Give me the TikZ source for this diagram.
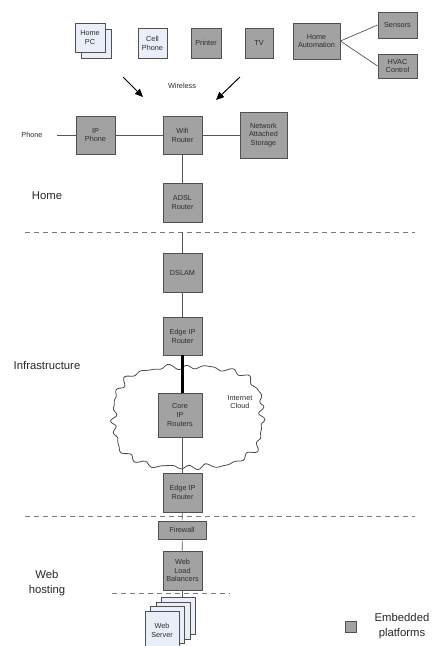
\documentclass[tikz,border=0pt]{standalone}
\usepackage{fontspec}
\setmainfont{Liberation Sans}
\usetikzlibrary{arrows.meta}
\definecolor{boxgray}{RGB}{162,162,162}
\definecolor{boxlight}{RGB}{233,238,249}
\definecolor{boxline}{RGB}{80,80,80}
\definecolor{wire}{RGB}{85,85,85}
\definecolor{txt}{RGB}{45,45,45}
\begin{document}
\begin{tikzpicture}[x=1pt,y=-1pt,
  unit/.style={draw=boxline, line width=0.9pt, inner sep=0pt, align=center,
    text=txt, font=\fontsize{7.3}{8.8}\selectfont},
  emb/.style={unit, fill=boxgray},
  pc/.style={unit, fill=boxlight},
  link/.style={draw=wire, line width=0.7pt},
  zone/.style={draw=wire!80, line width=0.7pt, dash pattern=on 5pt off 4pt},
  area/.style={font=\fontsize{11.3}{14.5}\selectfont, text=black!85, align=center},
  note/.style={font=\fontsize{7.3}{8.8}\selectfont, text=txt, align=center},
  wl/.style={line width=1pt, -{Triangle[length=8pt,width=7pt]}}]
\useasboundingbox (0,0) rectangle (433,646);

% --- home devices ---
\node[pc, minimum width=30pt, minimum height=29pt] (pcback) at (96,43.5) {};
\node[pc, minimum width=30pt, minimum height=29pt] (pc) at (90,37.5) {Home\\PC};
\node[pc, minimum width=29pt, minimum height=30pt] (cell) at (152.5,43) {Cell\\Phone};
\node[emb, minimum width=30pt, minimum height=30pt] (printer) at (206,43) {Printer};
\node[emb, minimum width=28pt, minimum height=30pt] (tv) at (259,43) {TV};
\node[emb, minimum width=47pt, minimum height=36pt] (auto) at (316.5,41) {Home\\Automation};
\node[emb, minimum width=39pt, minimum height=26pt] (sensors) at (397.5,25) {Sensors};
\node[emb, minimum width=39pt, minimum height=24pt] (hvac) at (397.5,66) {HVAC\\Control};
\draw[link] (auto.east) -- (sensors.west);
\draw[link] (auto.east) -- (hvac.west);

\node[note] (wireless) at (182,86) {Wireless};
\coordinate (wa1) at (123,77);
\coordinate (wb1) at (143,97);
\coordinate (wa2) at (240,77);
\coordinate (wb2) at (216,100);
\draw[wl] (wa1) -- (wb1);
\draw[wl] (wa2) -- (wb2);

% --- home network ---
\node[note] (phone) at (32,135) {Phone};
\node[emb, minimum width=39pt, minimum height=38pt] (ipphone) at (95.5,135) {IP\\Phone};
\node[emb, minimum width=39pt, minimum height=38pt] (wifi) at (182.5,135) {Wifi\\Router};
\node[emb, minimum width=47pt, minimum height=46pt] (nas) at (263.5,135) {Network\\Attached\\Storage};
\node[emb, minimum width=39pt, minimum height=39pt] (adsl) at (182.5,202.5) {ADSL\\Router};
\coordinate (phoneend) at (57,135);
\draw[link] (phoneend) -- (ipphone.west);
\draw[link] (ipphone) -- (wifi);
\draw[link] (wifi) -- (nas);
\draw[link] (wifi) -- (adsl);
\node[area] (home) at (47,196) {Home};

% --- zone borders ---
\coordinate (z1a) at (25,232);  \coordinate (z1b) at (415,232);
\coordinate (z2a) at (25,516);  \coordinate (z2b) at (415,516);
\coordinate (z3a) at (112,593); \coordinate (z3b) at (230,593);
\draw[zone] (z1a) -- (z1b);
\draw[zone] (z2a) -- (z2b);
\draw[zone] (z3a) -- (z3b);

% --- infrastructure: hand-drawn style cloud outline ---
\draw[line width=0.8pt, draw=black!70, fill=white]
  plot[smooth cycle, domain=1.3:361.3, samples=280, variable=\t]
  ({188+74*cos(\t)/((abs(cos(\t))^3+abs(sin(\t))^3)^(1/3))*(1+0.022*sin(23*\t)+0.016*sin(31*\t+50)+0.012*sin(13*\t+10))},
   {417+50*sin(\t)/((abs(cos(\t))^3+abs(sin(\t))^3)^(1/3))*(1+0.03*sin(23*\t)+0.022*sin(31*\t+50)+0.015*sin(13*\t+10))});
\node[note] (cloudlbl) at (240,402) {Internet\\Cloud};

\node[emb, minimum width=39pt, minimum height=39pt] (dslam) at (182.5,272.5) {DSLAM};
\node[emb, minimum width=39pt, minimum height=38pt] (edge1) at (182.5,336) {Edge IP\\Router};
\node[emb, minimum width=44pt, minimum height=44pt] (core) at (180,415) {Core\\IP\\Routers};
\node[emb, minimum width=39pt, minimum height=39pt] (edge2) at (182.5,492.5) {Edge IP\\Router};
\coordinate (dslamin) at (182.5,232);
\draw[link] (dslamin) -- (dslam.north);
\draw[link] (dslam) -- (edge1);
\draw[line width=2.6pt] (edge1.south) -- (edge1.south |- core.north);
\draw[link] (core.south -| edge2.north) -- (edge2.north);
\node[area] (infra) at (47,365) {Infrastructure};

% --- web hosting ---
\node[emb, minimum width=48pt, minimum height=18pt] (firewall) at (182,530) {Firewall};
\node[emb, minimum width=39pt, minimum height=39pt] (wlb) at (182.5,570.5) {Web\\Load\\Balancers};
\node[pc, minimum width=34pt, minimum height=37pt] (ws3) at (178.5,615.9) {};
\node[pc, minimum width=34pt, minimum height=37pt] (ws2) at (173,620.6) {};
\node[pc, minimum width=34pt, minimum height=37pt] (ws1) at (167.5,625.3) {};
\node[pc, minimum width=34pt, minimum height=37pt] (ws) at (162,630) {Web\\Server};
\draw[link] (edge2) -- (firewall);
\draw[link] (firewall) -- (wlb);
\draw[link] (wlb.south) -- (wlb.south |- ws3.north);
\node[area] (web) at (47,583) {Web\\hosting};

% --- legend ---
\node[emb, minimum width=11pt, minimum height=11pt] (key) at (351,627) {};
\node[area] (keylbl) at (402,626) {Embedded\\platforms};
\end{tikzpicture}
\end{document}
